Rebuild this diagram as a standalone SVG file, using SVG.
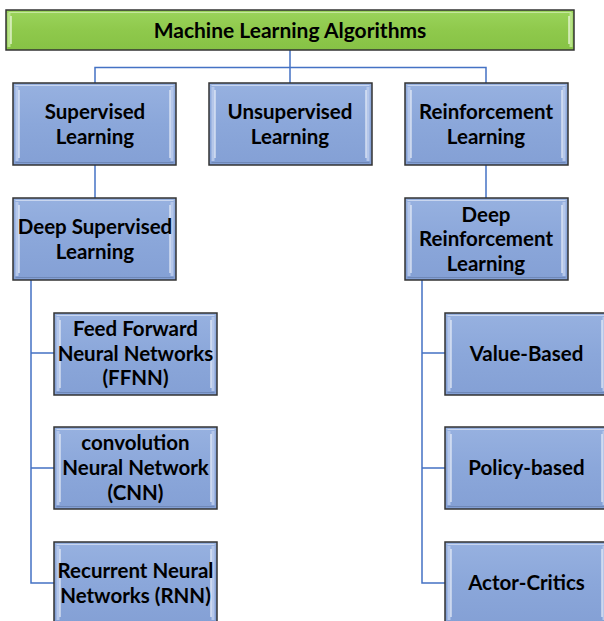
<svg xmlns="http://www.w3.org/2000/svg" xmlns:xlink="http://www.w3.org/1999/xlink" width="604" height="621" viewBox="0 0 604 621">
<style>
.lbl{font-family:Lato,"Open Sans","Liberation Sans",sans-serif;font-weight:bold;font-size:20.5px;fill:#000;text-anchor:middle}
.ttl{font-size:21px}
.conn{fill:none;stroke:#4472C4;stroke-width:1.5}
</style>
<defs>
<linearGradient id="gb" x1="0" y1="0" x2="0" y2="1">
<stop offset="0" stop-color="#97B1E0"/><stop offset="0.5" stop-color="#8BA7DA"/><stop offset="1" stop-color="#84A0D5"/>
</linearGradient>
<linearGradient id="gg" x1="0" y1="0" x2="0" y2="1">
<stop offset="0" stop-color="#9BD45C"/><stop offset="0.5" stop-color="#8FC94C"/><stop offset="1" stop-color="#86C245"/>
</linearGradient>
<symbol id="bbox" overflow="visible">
<rect x="0" y="0" width="163" height="82" fill="url(#gb)" stroke="#333" stroke-width="1.5"/>
<path d="M2.5 2.5H160.5" stroke="#C9D6EF" stroke-width="1" fill="none"/>
<path d="M2.5 79.5H160.5" stroke="#6F88B8" stroke-width="1" fill="none"/>
<path d="M4 4V78" stroke="#B5C7EA" stroke-width="3" fill="none"/>
<path d="M159 4V78" stroke="#B5C7EA" stroke-width="3" fill="none"/>
<path d="M6 7V75" stroke="#FFFFFF" stroke-opacity="0.8" stroke-width="1.2" fill="none"/>
<path d="M157 7V75" stroke="#FFFFFF" stroke-opacity="0.8" stroke-width="1.2" fill="none"/>
</symbol>
</defs>
<rect width="604" height="621" fill="#fff"/>
<g id="connectors">
<path class="conn" d="M290 50V67.5M95 83V67.5H486V83M290 67.5V83"/>
<path class="conn" d="M95 165V198"/>
<path class="conn" d="M486 165V198"/>
<path class="conn" d="M31 279V583H54M31 353H54M31 468H54"/>
<path class="conn" d="M422 279V583H445M422 353H445M422 468H445"/>
</g>
<g id="root">
<rect x="6" y="10" width="568" height="40" fill="url(#gg)" stroke="#333" stroke-width="1.5"/>
<path d="M8.5 12.5H571.5" stroke="#C5E89E" stroke-width="1" fill="none"/>
<path d="M9 13V47M571 13V47" stroke="#B8E389" stroke-width="3" fill="none"/>
<path d="M11 16V44M569 16V44" stroke="#F2FBE6" stroke-width="1.2" fill="none"/>
<text class="lbl ttl" x="290" y="37.5">Machine Learning Algorithms</text>
</g>
<g id="supervised">
<use xlink:href="#bbox" x="13" y="83"/>
<text class="lbl" x="95" y="118.5">Supervised</text>
<text class="lbl" x="95" y="143.5">Learning</text>
</g>
<g id="unsupervised">
<use xlink:href="#bbox" x="209" y="83"/>
<text class="lbl" x="290" y="118.5">Unsupervised</text>
<text class="lbl" x="290" y="143.5">Learning</text>
</g>
<g id="reinforcement">
<use xlink:href="#bbox" x="405" y="83"/>
<text class="lbl" x="486" y="118.5">Reinforcement</text>
<text class="lbl" x="486" y="143.5">Learning</text>
</g>
<g id="deep-supervised">
<use xlink:href="#bbox" x="13" y="198"/>
<text class="lbl" x="95" y="233.5">Deep Supervised</text>
<text class="lbl" x="95" y="258.5">Learning</text>
</g>
<g id="deep-reinforcement">
<use xlink:href="#bbox" x="405" y="198"/>
<text class="lbl" x="486" y="221.5">Deep</text>
<text class="lbl" x="486" y="246">Reinforcement</text>
<text class="lbl" x="486" y="270.5">Learning</text>
</g>
<g id="ffnn">
<use xlink:href="#bbox" x="54" y="313"/>
<text class="lbl" x="135.5" y="335.5">Feed Forward</text>
<text class="lbl" x="135.5" y="360.5">Neural Networks</text>
<text class="lbl" x="135.5" y="385">(FFNN)</text>
</g>
<g id="cnn">
<use xlink:href="#bbox" x="54" y="427"/>
<text class="lbl" x="135.5" y="450">convolution</text>
<text class="lbl" x="135.5" y="475">Neural Network</text>
<text class="lbl" x="135.5" y="499.5">(CNN)</text>
</g>
<g id="rnn">
<use xlink:href="#bbox" x="54" y="542"/>
<text class="lbl" x="135.5" y="577.5">Recurrent Neural</text>
<text class="lbl" x="135.5" y="602.5">Networks (RNN)</text>
</g>
<g id="value-based">
<use xlink:href="#bbox" x="445" y="313"/>
<text class="lbl" x="526.5" y="360.5">Value-Based</text>
</g>
<g id="policy-based">
<use xlink:href="#bbox" x="445" y="427"/>
<text class="lbl" x="526.5" y="475">Policy-based</text>
</g>
<g id="actor-critics">
<use xlink:href="#bbox" x="445" y="542"/>
<text class="lbl" x="526.5" y="589.5">Actor-Critics</text>
</g>
</svg>
